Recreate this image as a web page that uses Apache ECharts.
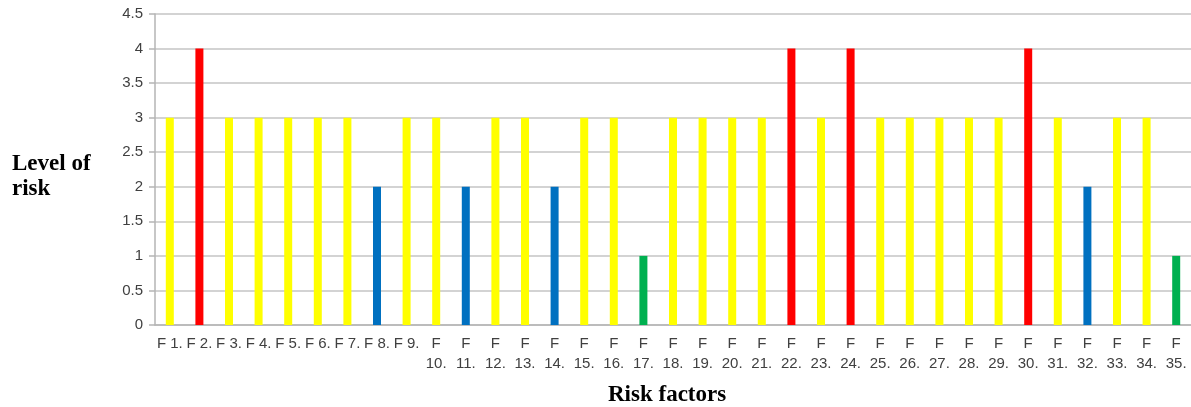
<!DOCTYPE html>
<html>
<head>
<meta charset="utf-8">
<script src="https://cdn.jsdelivr.net/npm/echarts@6/dist/echarts.min.js"></script>
<style>
  html, body { margin: 0; padding: 0; background: #ffffff; }
  #chart { width: 1191px; height: 407px; }
</style>
</head>
<body>
<div id="chart"></div>
<script>
// Risk factor labels and their assessed level of risk
const factors = [
  'F 1.', 'F 2.', 'F 3.', 'F 4.', 'F 5.', 'F 6.', 'F 7.', 'F 8.', 'F 9.', 'F 10.',
  'F 11.', 'F 12.', 'F 13.', 'F 14.', 'F 15.', 'F 16.', 'F 17.', 'F 18.', 'F 19.', 'F 20.',
  'F 21.', 'F 22.', 'F 23.', 'F 24.', 'F 25.', 'F 26.', 'F 27.', 'F 28.', 'F 29.', 'F 30.',
  'F 31.', 'F 32.', 'F 33.', 'F 34.', 'F 35.'
];
const riskLevels = [
  3, 4, 3, 3, 3, 3, 3, 2, 3, 3,
  2, 3, 3, 2, 3, 3, 1, 3, 3, 3,
  3, 4, 3, 4, 3, 3, 3, 3, 3, 4,
  3, 2, 3, 3, 1
];
// Colour per level: 1 low, 2 moderate, 3 high, 4 critical
const levelColors = { 1: '#00b050', 2: '#0070c0', 3: '#ffff00', 4: '#ff0000' };

const chart = echarts.init(document.getElementById('chart'), null, { renderer: 'canvas' });

chart.setOption({
  animation: false,
  backgroundColor: '#ffffff',
  grid: { left: 155, top: 14, width: 1040, height: 311, containLabel: false },
  xAxis: {
    type: 'category',
    data: factors,
    axisLine: { lineStyle: { color: '#b5b5b5', width: 1.5 } },
    axisTick: { show: false },
    axisLabel: {
      interval: 0,
      margin: 9,
      color: '#404040',
      fontFamily: 'Liberation Sans, Arial, sans-serif',
      fontSize: 15,
      lineHeight: 20,
      // two-digit labels wrap under the "F"
      formatter: v => v.length > 4 ? v.replace(' ', '\n') : v
    }
  },
  yAxis: {
    type: 'value',
    min: 0,
    max: 4.5,
    interval: 0.5,
    axisLine: { show: true, lineStyle: { color: '#b5b5b5', width: 1.5 } },
    axisTick: { show: true, length: 6, lineStyle: { color: '#b5b5b5', width: 1.5 } },
    axisLabel: {
      margin: 12,
      color: '#404040',
      fontFamily: 'Liberation Sans, Arial, sans-serif',
      fontSize: 15
    },
    splitLine: { lineStyle: { color: '#c4c4c4', width: 1.5 } }
  },
  series: [{
    type: 'bar',
    barWidth: 8,
    data: riskLevels.map(v => ({ value: v, itemStyle: { color: levelColors[v] } }))
  }],
  graphic: [
    {
      type: 'text', left: 12, top: 152,
      style: {
        text: 'Level of\nrisk',
        font: 'bold 23px "Liberation Serif", "Times New Roman", serif',
        lineHeight: 25,
        fill: '#000000'
      }
    },
    {
      type: 'text', left: 608, top: 384,
      style: {
        text: 'Risk factors',
        font: 'bold 23px "Liberation Serif", "Times New Roman", serif',
        fill: '#000000'
      }
    }
  ]
});
</script>
</body>
</html>
